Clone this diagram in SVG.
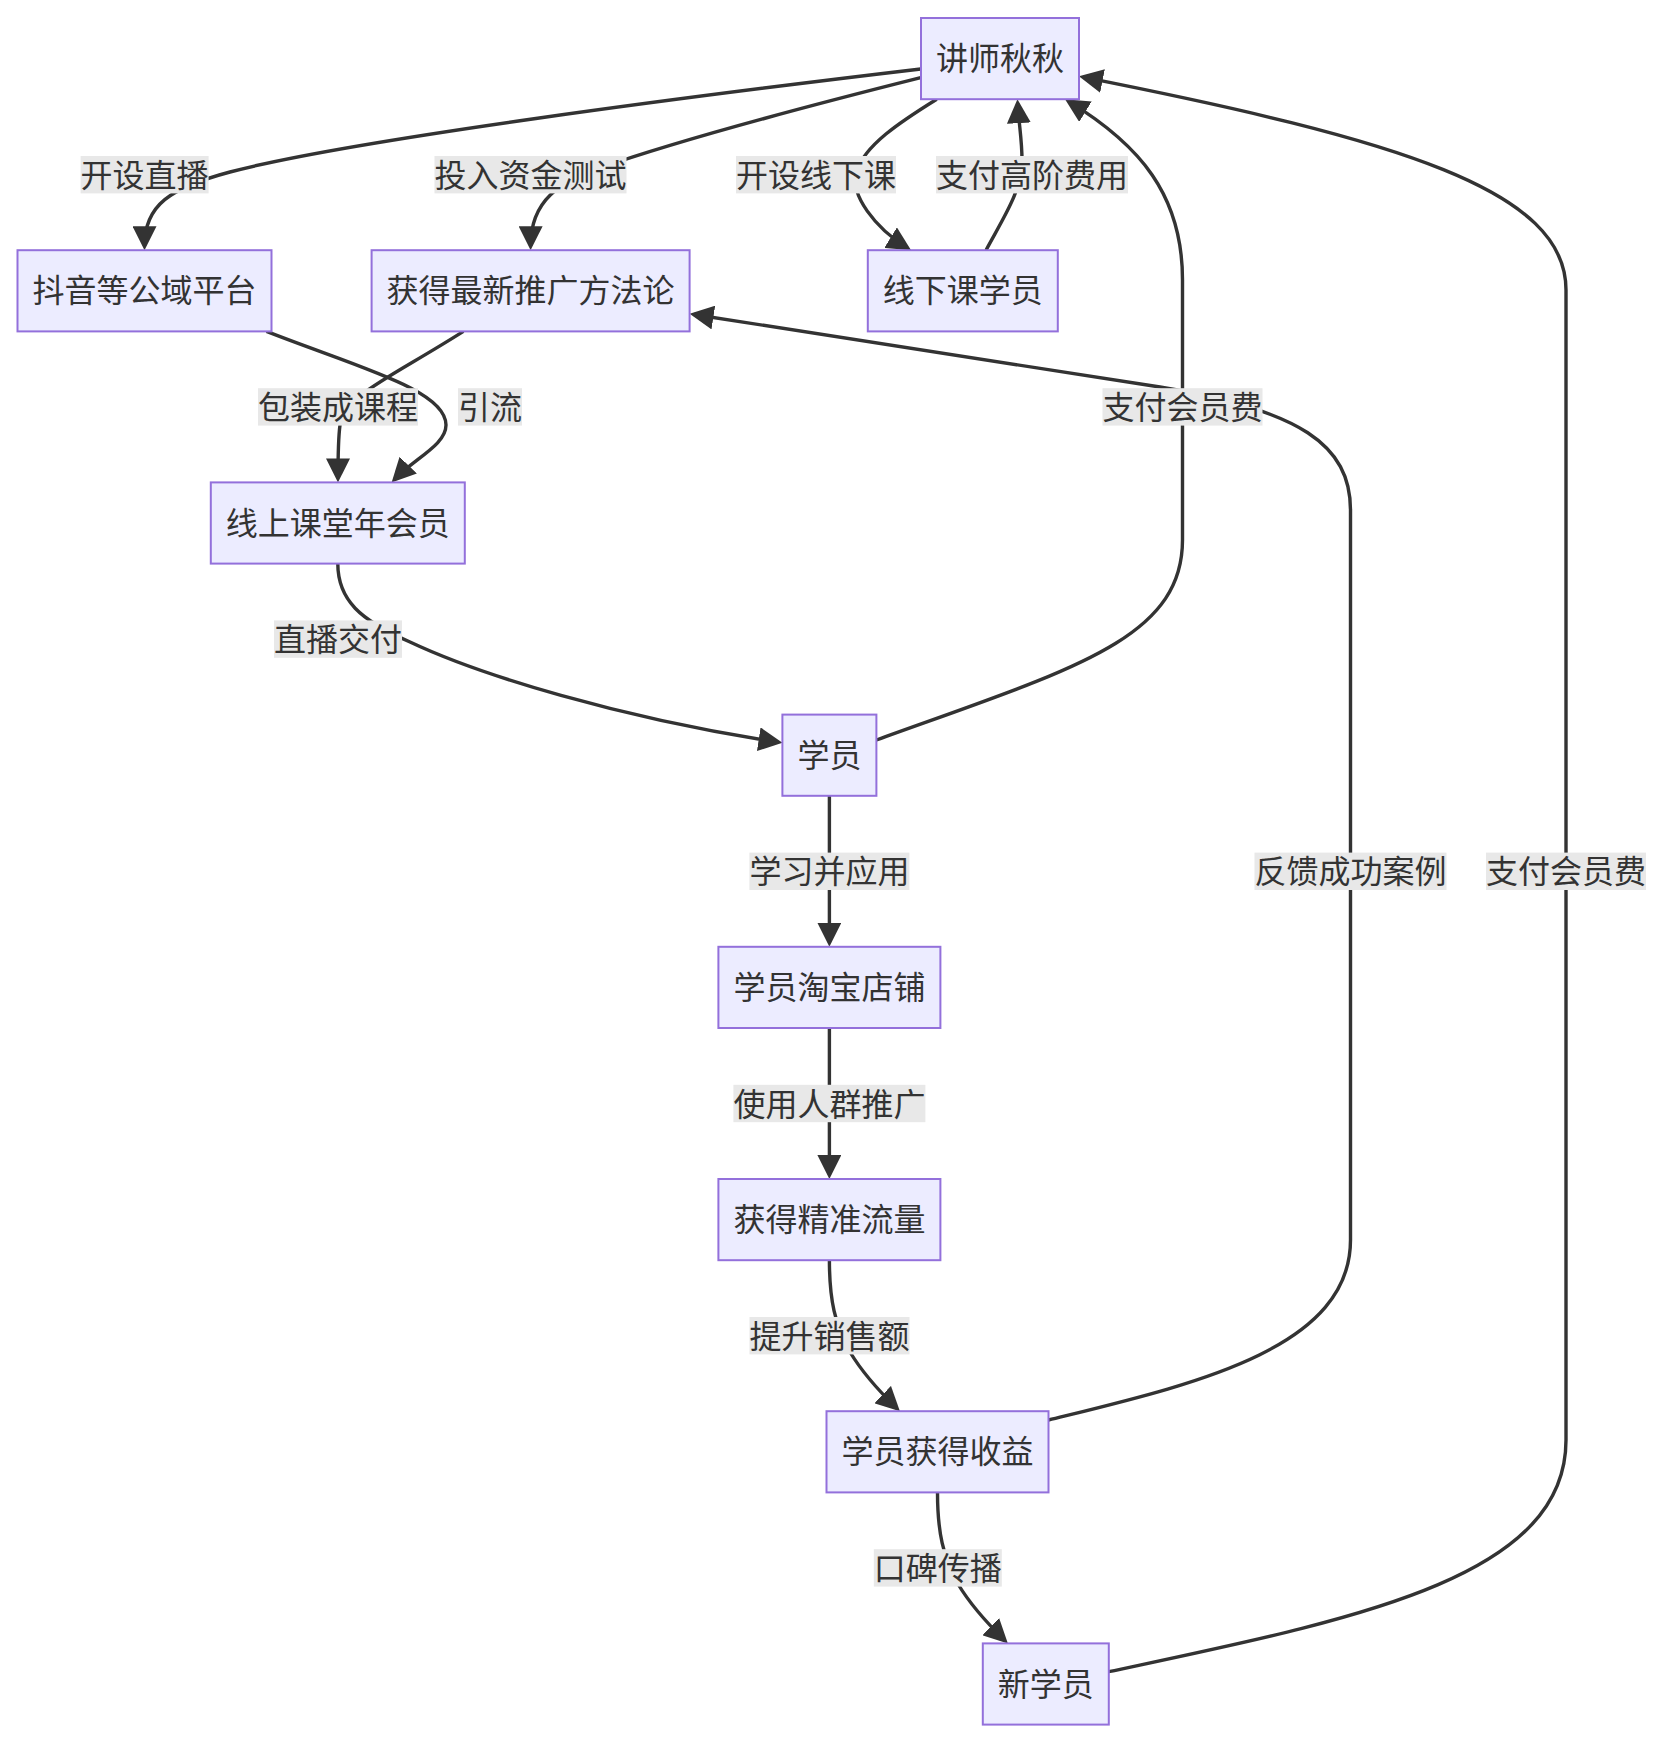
<svg xmlns="http://www.w3.org/2000/svg" width="1664" height="1742" viewBox="0 0 1664 1742">
<style>
.node rect{fill:#ECECFF;stroke:#9370DB;stroke-width:2}
.node text,.lbl text{font-family:"Noto Sans CJK SC","Noto Sans",sans-serif;font-size:32px;fill:#333333;text-anchor:middle}
.edge{fill:none;stroke:#333333;stroke-width:3.4;marker-end:url(#arr)}
.lbl rect{fill:#e8e8e8}
</style>
<defs>
<marker id="arr" viewBox="0 0 10 10" refX="8.2" refY="5" markerWidth="24" markerHeight="24" markerUnits="userSpaceOnUse" orient="auto">
<path d="M0,0 L10,5 L0,10 z" fill="#333333"/>
</marker>
</defs>
<rect width="1664" height="1742" fill="#ffffff"/>
<g id="edges">
<path class="edge" d="M920.7,69 C700,95 350,140 230,172 C170,188 144.5,205 144.5,245.9"/>
<path class="edge" d="M920.7,77.7 C800,108 680,140 600,168 C560,182 530.6,200 530.6,245.9"/>
<path class="edge" d="M936.7,99.2 C900,122 865,145 856,172 C850,195 875,228 907.4,247.9"/>
<path class="edge" d="M986,250.2 C1005,215 1022,190 1022,160 C1022,140 1019,125 1017.7,103.5"/>
<path class="edge" d="M876.4,740 C1070,670 1182.5,640 1182.5,540 L1182.5,280 C1182.5,195 1140,145 1068.7,101.4"/>
<path class="edge" d="M1048.5,1420 C1190,1385 1350.5,1350 1350.5,1240 L1350.5,510 C1350.5,445 1300,410 1160,387 L693.9,314.5"/>
<path class="edge" d="M1108.8,1671.7 C1350,1620 1566,1580 1566,1440 L1566,290 C1566,190 1400,140 1083.2,77.2"/>
<path class="edge" d="M266.5,331.4 C360,368 446,390 446,425 C446,445 415,458 394.6,479.3"/>
<path class="edge" d="M463.4,331.4 C390,378 345,395 340,425 C338,440 338,455 338,478.1"/>
<path class="edge" d="M337.8,563.6 C337.8,600 360,620 410,642 C480,675 620,718 778.2,742.2"/>
<path class="edge" d="M829.4,795.8 L829.4,942.5"/>
<path class="edge" d="M829.4,1028 L829.4,1174.7"/>
<path class="edge" d="M829.4,1260.2 C829.4,1300 835,1325 850,1352 C862,1372 880,1392 896.8,1408.2"/>
<path class="edge" d="M937.5,1492.4 C937.5,1532 943,1557 958,1584 C970,1604 988,1624 1004.8,1640.4"/>
</g>
<g id="edge-labels">
<g class="lbl"><rect x="80.6" y="156" width="128" height="37.4"/><text x="144.6" y="186.7">开设直播</text></g>
<g class="lbl"><rect x="434.5" y="156" width="192" height="37.4"/><text x="530.5" y="186.7">投入资金测试</text></g>
<g class="lbl"><rect x="736" y="156" width="160" height="37.4"/><text x="816" y="186.7">开设线下课</text></g>
<g class="lbl"><rect x="936" y="156" width="192" height="37.4"/><text x="1032" y="186.7">支付高阶费用</text></g>
<g class="lbl"><rect x="258" y="388.2" width="160" height="37.4"/><text x="338" y="418.9">包装成课程</text></g>
<g class="lbl"><rect x="458" y="388.2" width="64" height="37.4"/><text x="490" y="418.9">引流</text></g>
<g class="lbl"><rect x="1102.5" y="388.2" width="160" height="37.4"/><text x="1182.5" y="418.9">支付会员费</text></g>
<g class="lbl"><rect x="274" y="620.4" width="128" height="37.4"/><text x="338" y="651.1">直播交付</text></g>
<g class="lbl"><rect x="749.4" y="852.6" width="160" height="37.4"/><text x="829.4" y="883.3">学习并应用</text></g>
<g class="lbl"><rect x="1254.5" y="852.6" width="192" height="37.4"/><text x="1350.5" y="883.3">反馈成功案例</text></g>
<g class="lbl"><rect x="1486" y="852.6" width="160" height="37.4"/><text x="1566" y="883.3">支付会员费</text></g>
<g class="lbl"><rect x="733.4" y="1084.8" width="192" height="37.4"/><text x="829.4" y="1115.5">使用人群推广</text></g>
<g class="lbl"><rect x="749.5" y="1317" width="160" height="37.4"/><text x="829.5" y="1347.7">提升销售额</text></g>
<g class="lbl"><rect x="873.8" y="1549.2" width="128" height="37.4"/><text x="937.8" y="1579.9">口碑传播</text></g>
</g>
<g id="node-A" class="node"><rect x="921" y="18" width="158" height="81.2"/><text x="1000" y="70.2">讲师秋秋</text></g>
<g id="node-B" class="node"><rect x="17.5" y="250.2" width="254" height="81.2"/><text x="144.5" y="302.4">抖音等公域平台</text></g>
<g id="node-C" class="node"><rect x="371.6" y="250.2" width="318" height="81.2"/><text x="530.6" y="302.4">获得最新推广方法论</text></g>
<g id="node-D" class="node"><rect x="867.8" y="250.2" width="190" height="81.2"/><text x="962.8" y="302.4">线下课学员</text></g>
<g id="node-E" class="node"><rect x="210.8" y="482.4" width="254" height="81.2"/><text x="337.8" y="534.6">线上课堂年会员</text></g>
<g id="node-F" class="node"><rect x="782.4" y="714.6" width="94" height="81.2"/><text x="829.4" y="766.8">学员</text></g>
<g id="node-G" class="node"><rect x="718.4" y="946.8" width="222" height="81.2"/><text x="829.4" y="999">学员淘宝店铺</text></g>
<g id="node-H" class="node"><rect x="718.4" y="1179" width="222" height="81.2"/><text x="829.4" y="1231.2">获得精准流量</text></g>
<g id="node-I" class="node"><rect x="826.5" y="1411.2" width="222" height="81.2"/><text x="937.5" y="1463.4">学员获得收益</text></g>
<g id="node-J" class="node"><rect x="982.8" y="1643.4" width="126" height="81.2"/><text x="1045.8" y="1695.6">新学员</text></g>
</svg>
